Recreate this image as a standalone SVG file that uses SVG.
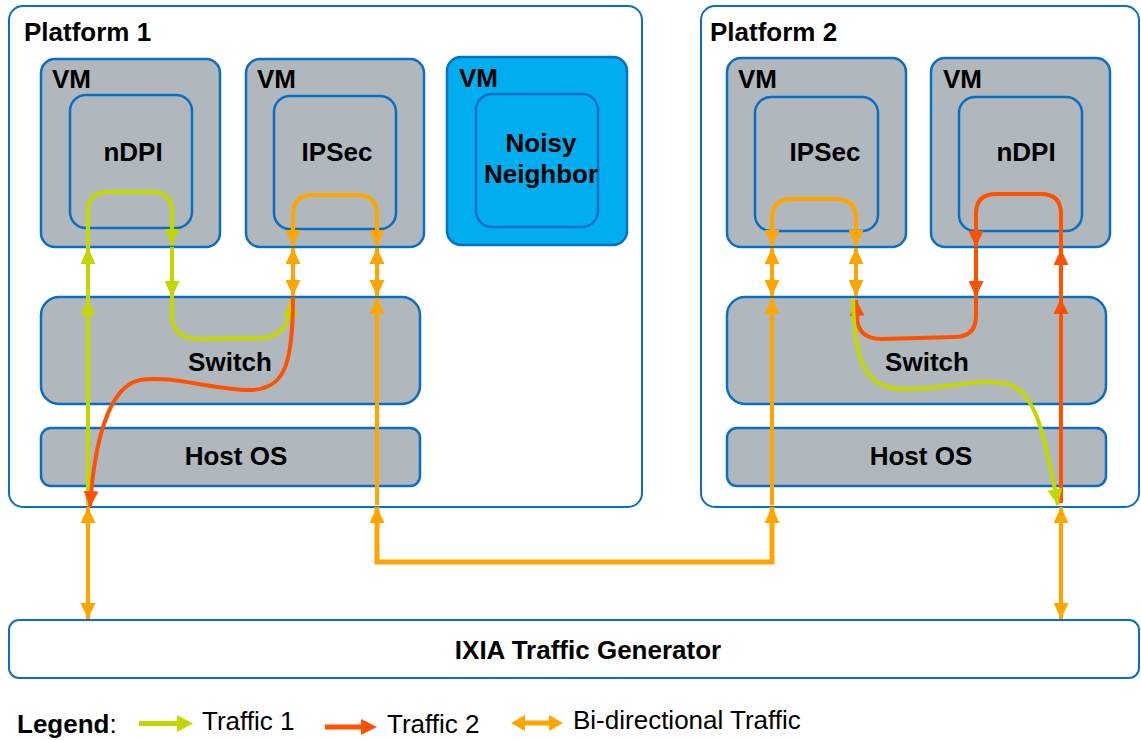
<svg xmlns="http://www.w3.org/2000/svg" width="1141" height="740" viewBox="0 0 1141 740">
<style>
.plat{fill:#fff;stroke:#0a6fc2;stroke-width:2}
.box{fill:#b0b8be;stroke:#0a6fc2;stroke-width:2.5}
.inner{fill:none;stroke:#0a6fc2;stroke-width:2.5}
.noisy{fill:#00aeef;stroke:#0a6fc2;stroke-width:2.5}
.t{font-family:"Liberation Sans",Arial,sans-serif;font-weight:bold;font-size:26px;fill:#000}
.c{text-anchor:middle}
.lg{font-family:"Liberation Sans",Arial,sans-serif;font-size:26px;fill:#000}
.g{fill:none;stroke:#c4d600;stroke-width:4}
.r{fill:none;stroke:#ff5200;stroke-width:4}
.o{fill:none;stroke:#ffa500;stroke-width:4}
</style>
<defs>
<marker id="ag" markerUnits="userSpaceOnUse" markerWidth="16" markerHeight="15" refX="16" refY="7.5" orient="auto-start-reverse"><path d="M0,0 L16,7.5 L0,15 z" fill="#c4d600"/></marker>
<marker id="ar" markerUnits="userSpaceOnUse" markerWidth="16" markerHeight="15" refX="16" refY="7.5" orient="auto-start-reverse"><path d="M0,0 L16,7.5 L0,15 z" fill="#ff5200"/></marker>
<marker id="ao" markerUnits="userSpaceOnUse" markerWidth="16" markerHeight="15" refX="16" refY="7.5" orient="auto-start-reverse"><path d="M0,0 L16,7.5 L0,15 z" fill="#ffa500"/></marker>
</defs>

<g id="platform1">
<rect class="plat" x="9" y="6" width="633" height="501" rx="14"/>
<text class="t" x="24" y="41">Platform 1</text>
</g>
<g id="platform2">
<rect class="plat" x="701" y="6" width="438" height="501" rx="14"/>
<text class="t" x="710" y="41">Platform 2</text>
</g>

<g id="p1-vm-ndpi">
<rect class="box" x="41" y="59" width="179" height="188" rx="14"/>
<text class="t" x="52" y="88">VM</text>
<rect class="inner" x="70" y="95" width="122" height="133" rx="16"/>
<text class="t c" x="133" y="161">nDPI</text>
</g>
<g id="p1-vm-ipsec">
<rect class="box" x="246" y="59" width="178" height="188" rx="14"/>
<text class="t" x="257" y="88">VM</text>
<rect class="inner" x="274" y="96" width="122" height="133" rx="16"/>
<text class="t c" x="337" y="161">IPSec</text>
</g>
<g id="p1-vm-noisy">
<rect class="noisy" x="447" y="57" width="180" height="188" rx="14"/>
<text class="t" x="459" y="87">VM</text>
<rect class="inner" x="476" y="94" width="122" height="133" rx="16"/>
<text class="t c" x="541" y="152">Noisy</text>
<text class="t c" x="541" y="183">Neighbor</text>
</g>
<g id="p1-switch">
<rect class="box" x="41" y="297" width="379" height="107" rx="18"/>
<text class="t c" x="230" y="371">Switch</text>
</g>
<g id="p1-hostos">
<rect class="box" x="41" y="428" width="379" height="58" rx="10"/>
<text class="t c" x="236" y="465">Host OS</text>
</g>

<g id="p2-vm-ipsec">
<rect class="box" x="727" y="58" width="179" height="189" rx="14"/>
<text class="t" x="738" y="88">VM</text>
<rect class="inner" x="755" y="97" width="123" height="134" rx="16"/>
<text class="t c" x="825" y="161">IPSec</text>
</g>
<g id="p2-vm-ndpi">
<rect class="box" x="931" y="58" width="179" height="189" rx="14"/>
<text class="t" x="943" y="88">VM</text>
<rect class="inner" x="959" y="97" width="123" height="134" rx="16"/>
<text class="t c" x="1026" y="161">nDPI</text>
</g>
<g id="p2-switch">
<rect class="box" x="727" y="297" width="379" height="107" rx="18"/>
<text class="t c" x="927" y="371">Switch</text>
</g>
<g id="p2-hostos">
<rect class="box" x="727" y="428" width="379" height="58" rx="10"/>
<text class="t c" x="921" y="465">Host OS</text>
</g>

<g id="ixia">
<rect class="plat" x="9" y="620" width="1130" height="58" rx="10"/>
<text class="t c" x="588" y="659">IXIA Traffic Generator</text>
</g>

<g id="connectors">
<!-- Platform 1 orange -->
<path class="o" d="M293,246 L293,215 Q293,195 313,195 L357,195 Q377,195 377,215 L377,246" marker-start="url(#ao)" marker-end="url(#ao)"/>
<path class="o" d="M293,248 L293,296" marker-start="url(#ao)" marker-end="url(#ao)"/>
<path class="o" d="M377,248 L377,296" marker-start="url(#ao)" marker-end="url(#ao)"/>
<path class="o" d="M377,505 L377,298" marker-end="url(#ao)"/>
<path class="o" d="M88,507 L88,619" marker-start="url(#ao)" marker-end="url(#ao)"/>
<path class="o" style="stroke-width:5" d="M377,507 L377,562 L772,562 L772,507" marker-start="url(#ao)" marker-end="url(#ao)"/>
<path class="o" d="M1061,507 L1061,619" marker-start="url(#ao)" marker-end="url(#ao)"/>
<!-- Platform 1 green -->
<path class="g" d="M88,505 L88,299" marker-end="url(#ag)"/>
<path class="g" d="M88,299 L88,248" marker-end="url(#ag)"/>
<path class="g" d="M88,248 L88,212 Q88,192 108,192 L152,192 Q172,192 172,212 L172,245" marker-end="url(#ag)"/>
<path class="g" d="M172,247 L172,297" marker-end="url(#ag)"/>
<path class="g" d="M172,297 L172,315 Q172,339 200,339 L262,338 Q291,336 291,300" marker-end="url(#ag)"/>
<!-- Platform 1 red -->
<path class="r" d="M293,297 C293,365 285,392 245,390 C205,388 170,375 140,380 C108,386 94,445 90,507" marker-end="url(#ar)"/>
<!-- Platform 2 orange -->
<path class="o" d="M772,246 L772,219 Q772,199 792,199 L836,199 Q856,199 856,219 L856,246" marker-start="url(#ao)" marker-end="url(#ao)"/>
<path class="o" d="M772,248 L772,296" marker-start="url(#ao)" marker-end="url(#ao)"/>
<path class="o" d="M856,248 L856,296" marker-start="url(#ao)" marker-end="url(#ao)"/>
<path class="o" d="M772,505 L772,298" marker-end="url(#ao)"/>
<!-- Platform 2 red -->
<path class="r" d="M1061,250 L1061,214 Q1061,194 1041,194 L996,194 Q976,194 976,214 L976,247" marker-end="url(#ar)"/>
<path class="r" d="M976,248 L976,297" marker-end="url(#ar)"/>
<path class="r" d="M976,297 L976,316 Q976,337 954,337 L882,339 Q857,339 857,316 L856,300" marker-end="url(#ar)"/>
<path class="r" d="M1061,503 L1061,298" marker-end="url(#ar)"/>
<path class="r" d="M1061,298 L1061,249" marker-end="url(#ar)"/>
<!-- Platform 2 green -->
<path class="g" d="M853,298 C854,370 868,390 910,389 C950,388 978,378 1008,384 C1038,392 1046,445 1058,505" marker-end="url(#ag)"/>
</g>

<g id="legend">
<text class="lg" x="17" y="733"><tspan font-weight="bold">Legend</tspan>:</text>
<path d="M139,721 L177,721 L177,715 L193,723.5 L177,732 L177,726 L139,726 z" fill="#c4d600"/>
<text class="lg" x="202" y="730">Traffic 1</text>
<path d="M325,724.5 L361,724.5 L361,719 L377,727 L361,735 L361,729.5 L325,729.5 z" fill="#ff5200"/>
<text class="lg" x="387" y="733">Traffic 2</text>
<path d="M511,723 L525,715 L525,720.5 L549,720.5 L549,715 L563,723 L549,731 L549,725.5 L525,725.5 L525,731 z" fill="#ffa500"/>
<text class="lg" x="573" y="729">Bi-directional Traffic</text>
</g>
</svg>
